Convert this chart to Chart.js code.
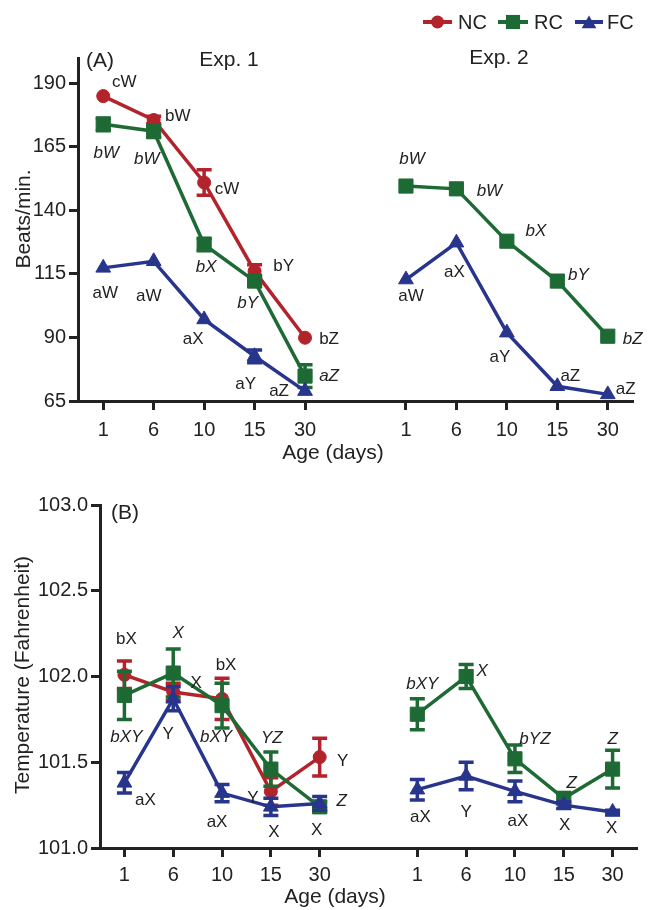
<!DOCTYPE html>
<html>
<head>
<meta charset="utf-8">
<script src="https://cdn.jsdelivr.net/npm/chart.js@4"></script>
<style>
  html,body{margin:0;padding:0;background:#fff;}
  #wrap{position:relative;width:651px;height:910px;overflow:hidden;}
  .box{position:absolute;left:0;width:651px;}
</style>
</head>
<body>
<div id="wrap">
  <div class="box" style="top:0;height:470px;"><canvas id="c1" width="651" height="470"></canvas></div>
  <div class="box" style="top:470px;height:440px;"><canvas id="c2" width="651" height="440"></canvas></div>
</div>
<script>
// ---------------- data ----------------
const ageLabels = ['1', '6', '10', '15', '30'];
const exp1Pos = [0, 1, 2, 3, 4];
const exp2Pos = [6, 7, 8, 9, 10];
const seriesNames = ['NC', 'RC', 'FC'];

// Panel A: heart rate (beats/min)
const hrNC1 = [185.0, 175.6, 151.0, 116.1, 89.9];
const hrNC1Err = [0, 1.5, 5.0, 2.5, 0];
const hrRC1 = [173.9, 171.2, 126.6, 112.2, 74.8];
const hrRC1Err = [2.5, 2.5, 2.5, 2.0, 4.5];
const hrFC1 = [117.4, 120.0, 97.1, 82.6, 68.9];
const hrFC1Err = [0, 0, 0, 2.5, 0];
const hrRC2 = [149.6, 148.5, 127.9, 112.2, 90.5];
const hrRC2Err = [0, 0, 0, 0, 0];
const hrFC2 = [112.8, 127.3, 91.9, 70.8, 67.6];
const hrFC2Err = [0, 0, 0, 0, 0];
const hrTicks = [65, 90, 115, 140, 165, 190];

const hrNC1Txt = ['cW', 'bW', 'cW', 'bY', 'bZ'];
const hrRC1Txt = ['bW', 'bW', 'bX', 'bY', 'aZ'];
const hrFC1Txt = ['aW', 'aW', 'aX', 'aY', 'aZ'];
const hrRC2Txt = ['bW', 'bW', 'bX', 'bY', 'bZ'];
const hrFC2Txt = ['aW', 'aX', 'aY', 'aZ', 'aZ'];

// Panel B: temperature (Fahrenheit)
const tNC1 = [102.01, 101.91, 101.87, 101.33, 101.53];
const tNC1Err = [0.08, 0.05, 0.12, 0.08, 0.11];
const tRC1 = [101.89, 102.02, 101.83, 101.46, 101.24];
const tRC1Err = [0.14, 0.14, 0.13, 0.10, 0.03];
const tFC1 = [101.38, 101.87, 101.32, 101.24, 101.26];
const tFC1Err = [0.06, 0.07, 0.05, 0.05, 0.04];
const tRC2 = [101.78, 102.00, 101.52, 101.29, 101.46];
const tRC2Err = [0.09, 0.07, 0.08, 0.03, 0.11];
const tFC2 = [101.34, 101.42, 101.33, 101.25, 101.21];
const tFC2Err = [0.06, 0.08, 0.06, 0.02, 0.01];
const tTicks = [101.0, 101.5, 102.0, 102.5, 103.0];

const tNC1Txt = ['bX', 'X', 'bX', 'Y', 'Y'];
const tRC1Txt = ['bXY', 'X', 'bXY', 'YZ', 'Z'];
const tFC1Txt = ['aX', 'Y', 'aX', 'X', 'X'];
const tRC2Txt = ['bXY', 'X', 'bYZ', 'Z', 'Z'];
const tFC2Txt = ['aX', 'Y', 'aX', 'X', 'X'];

// ---------------- styles ----------------
const COL = { NC: '#b3232b', RC: '#1e6a35', FC: '#27358c' };
const INK = '#222222';
const FONT = '"Liberation Sans", Arial, sans-serif';

// label offsets (px, relative to the point) -- styling only
const offA = {
  NC1: [[21, -14], [24, -4], [23, 7], [29, -5], [24, 2]],
  RC1: [[3, 29], [-7, 28], [2, 23], [-7, 22], [24, 0]],
  FC1: [[2, 25], [-5, 35], [-11, 20], [-9, 28], [-26, 0]],
  RC2: [[6, -27], [33, 2], [29, -10], [21, -6], [25, 3]],
  FC2: [[5, 17], [-2, 30], [-7, 25], [13, -10], [18, -5]]
};
const offB = {
  NC1: [[2, -35], [23, -9], [4, -33], [-18, 7], [23, 4]],
  RC1: [[2, 42], [5, -40], [-6, 32], [1, -31], [22, -6]],
  FC1: [[21, 17], [-5, 36], [-5, 29], [3, 25], [-3, 27]],
  RC2: [[5, -30], [16, -5], [20, -20], [8, -15], [0, -30]],
  FC2: [[3, 28], [0, 36], [3, 30], [1, 20], [-1, 16]]
};

function pts(pos, vals) { return pos.map((p, i) => ({ x: p, y: vals[i] })); }
function join(a, b) { return a.concat([{ x: 5, y: null }], b); }
function joinArr(a, b) { return a.concat([0], b); }
function joinTxt(a, b) { return a.concat([''], b); }

function mkDs(name, data, errs, txt, offs, italic, style, radius, order) {
  return {
    label: name, data: data, errs: errs, txt: txt, offs: offs, italic: italic,
    borderColor: COL[name], backgroundColor: COL[name],
    pointBackgroundColor: COL[name], pointBorderColor: COL[name],
    pointStyle: style, pointRadius: radius, pointHoverRadius: radius,
    borderWidth: 3.5, pointBorderWidth: 1, spanGaps: false, tension: 0, order: order
  };
}

const dsA = [
  mkDs('NC', pts(exp1Pos, hrNC1), hrNC1Err, hrNC1Txt, offA.NC1, false, 'circle', 6.5, 3),
  mkDs('RC', join(pts(exp1Pos, hrRC1), pts(exp2Pos, hrRC2)), joinArr(hrRC1Err, hrRC2Err),
       joinTxt(hrRC1Txt, hrRC2Txt), offA.RC1.concat([[0, 0]], offA.RC2), true, 'rect', 10, 2),
  mkDs('FC', join(pts(exp1Pos, hrFC1), pts(exp2Pos, hrFC2)), joinArr(hrFC1Err, hrFC2Err),
       joinTxt(hrFC1Txt, hrFC2Txt), offA.FC1.concat([[0, 0]], offA.FC2), false, 'triangle', 8.5, 1)
];
const dsB = [
  mkDs('NC', pts(exp1Pos, tNC1), tNC1Err, tNC1Txt, offB.NC1, false, 'circle', 6.5, 3),
  mkDs('RC', join(pts(exp1Pos, tRC1), pts(exp2Pos, tRC2)), joinArr(tRC1Err, tRC2Err),
       joinTxt(tRC1Txt, tRC2Txt), offB.RC1.concat([[0, 0]], offB.RC2), true, 'rect', 10, 2),
  mkDs('FC', join(pts(exp1Pos, tFC1), pts(exp2Pos, tFC2)), joinArr(tFC1Err, tFC2Err),
       joinTxt(tFC1Txt, tFC2Txt), offB.FC1.concat([[0, 0]], offB.FC2), false, 'triangle', 8.5, 1)
];

// ---------------- plugins ----------------
const errPlugin = {
  id: 'errbars',
  afterDatasetDraw(chart, args) {
    const ds = chart.data.datasets[args.index];
    const ys = chart.scales.y;
    const ctx = chart.ctx;
    ctx.save();
    ctx.strokeStyle = ds.borderColor;
    ctx.lineWidth = 3.5;
    ctx.lineCap = 'butt';
    args.meta.data.forEach((el, i) => {
      const r = ds.data[i];
      const e = ds.errs[i];
      if (r.y == null || !e) return;
      const yt = ys.getPixelForValue(r.y + e);
      const yb = ys.getPixelForValue(r.y - e);
      ctx.beginPath();
      ctx.moveTo(el.x, yt); ctx.lineTo(el.x, yb);
      ctx.moveTo(el.x - 7.5, yt); ctx.lineTo(el.x + 7.5, yt);
      ctx.moveTo(el.x - 7.5, yb); ctx.lineTo(el.x + 7.5, yb);
      ctx.stroke();
    });
    ctx.restore();
  },
  afterDraw(chart) {
    const ctx = chart.ctx;
    ctx.save();
    ctx.fillStyle = INK;
    ctx.textAlign = 'center';
    ctx.textBaseline = 'middle';
    chart.data.datasets.forEach((ds, di) => {
      const meta = chart.getDatasetMeta(di);
      ctx.font = (ds.italic ? 'italic ' : '') + '17px ' + FONT;
      meta.data.forEach((el, i) => {
        const t = ds.txt[i];
        if (!t || ds.data[i].y == null) return;
        const o = ds.offs[i];
        ctx.fillText(t, el.x + o[0], el.y + o[1]);
      });
    });
    const ex = chart.options.plugins.errbars.texts || [];
    ex.forEach(t => {
      ctx.save();
      ctx.font = '21px ' + FONT;
      ctx.translate(t.x, t.y);
      if (t.rot) ctx.rotate(t.rot);
      ctx.fillText(t.s, 0, 0);
      ctx.restore();
    });
    ctx.restore();
  }
};

function marker(ctx, style, x, y, r) {
  ctx.beginPath();
  if (style === 'circle') {
    ctx.arc(x, y, r, 0, Math.PI * 2);
  } else if (style === 'rect') {
    const s = Math.SQRT1_2 * r;
    ctx.rect(x - s, y - s, 2 * s, 2 * s);
  } else {
    ctx.moveTo(x, y - r);
    ctx.lineTo(x + r * Math.sin(2 * Math.PI / 3), y - r * Math.cos(2 * Math.PI / 3));
    ctx.lineTo(x + r * Math.sin(4 * Math.PI / 3), y - r * Math.cos(4 * Math.PI / 3));
    ctx.closePath();
  }
  ctx.fill();
}

const legendPlugin = {
  id: 'mylegend',
  afterDraw(chart) {
    const ctx = chart.ctx;
    const items = [
      { n: 'NC', x0: 423, x1: 452, tx: 458, st: 'circle', r: 6.5 },
      { n: 'RC', x0: 498, x1: 528, tx: 534, st: 'rect', r: 10 },
      { n: 'FC', x0: 575, x1: 603, tx: 607, st: 'triangle', r: 8.5 }
    ];
    const y = 22;
    ctx.save();
    items.forEach(it => {
      ctx.strokeStyle = COL[it.n];
      ctx.fillStyle = COL[it.n];
      ctx.lineWidth = 4;
      ctx.beginPath(); ctx.moveTo(it.x0, y); ctx.lineTo(it.x1, y); ctx.stroke();
      marker(ctx, it.st, (it.x0 + it.x1) / 2, it.st === 'triangle' ? y + 2 : y, it.r);
      ctx.fillStyle = INK;
      ctx.font = '20px ' + FONT;
      ctx.textAlign = 'left';
      ctx.textBaseline = 'middle';
      ctx.fillText(it.n, it.tx, y + 1);
    });
    ctx.restore();
  }
};

function xScale(h, pad) {
  return {
    type: 'linear', min: -0.5, max: 10.5,
    afterBuildTicks: s => { s.ticks = exp1Pos.concat(exp2Pos).map(v => ({ value: v })); },
    afterFit: s => { s.height = h; },
    ticks: {
      callback: v => ageLabels[Math.round(v) % 6],
      font: { family: FONT, size: 20 }, color: INK, padding: pad, maxRotation: 0, autoSkip: false
    },
    grid: { drawOnChartArea: false, drawTicks: true, tickLength: 9, tickWidth: 3, tickColor: INK },
    border: { display: true, width: 3, color: INK }
  };
}
function yScale(min, max, tickVals, w, dec) {
  return {
    type: 'linear', min: min, max: max,
    afterBuildTicks: s => { s.ticks = tickVals.map(v => ({ value: v })); },
    afterFit: s => { s.width = w; },
    ticks: {
      callback: v => dec ? Number(v).toFixed(1) : String(v),
      font: { family: FONT, size: 20 }, color: INK, padding: 3
    },
    grid: { drawOnChartArea: false, drawTicks: true, tickLength: 9, tickWidth: 3, tickColor: INK },
    border: { display: true, width: 3, color: INK }
  };
}

function baseOpts(pad, xs, ys, texts) {
  return {
    responsive: false, animation: false, devicePixelRatio: 1,
    layout: { padding: pad },
    plugins: { legend: { display: false }, tooltip: { enabled: false }, errbars: { texts: texts } },
    scales: { x: xs, y: ys }
  };
}

new Chart(document.getElementById('c1'), {
  type: 'line',
  data: { datasets: dsA },
  options: baseOpts({ top: 58, right: 18, left: 0, bottom: 0 }, xScale(69, 8),
    yScale(65, 200, hrTicks, 78, false), [
      { s: '(A)', x: 100, y: 61 },
      { s: 'Exp. 1', x: 229, y: 60 },
      { s: 'Exp. 2', x: 499, y: 58 },
      { s: 'Age (days)', x: 333, y: 453 },
      { s: 'Beats/min.', x: 24, y: 219, rot: -Math.PI / 2 }
    ]),
  plugins: [errPlugin, legendPlugin]
});

new Chart(document.getElementById('c2'), {
  type: 'line',
  data: { datasets: dsB },
  options: baseOpts({ top: 35, right: 14, left: 0, bottom: 0 }, xScale(62, 6),
    yScale(101, 103, tTicks, 100, true), [
      { s: '(B)', x: 125, y: 43 },
      { s: 'Age (days)', x: 335, y: 427 },
      { s: 'Temperature (Fahrenheit)', x: 23, y: 205, rot: -Math.PI / 2 }
    ]),
  plugins: [errPlugin]
});
</script>
</body>
</html>
